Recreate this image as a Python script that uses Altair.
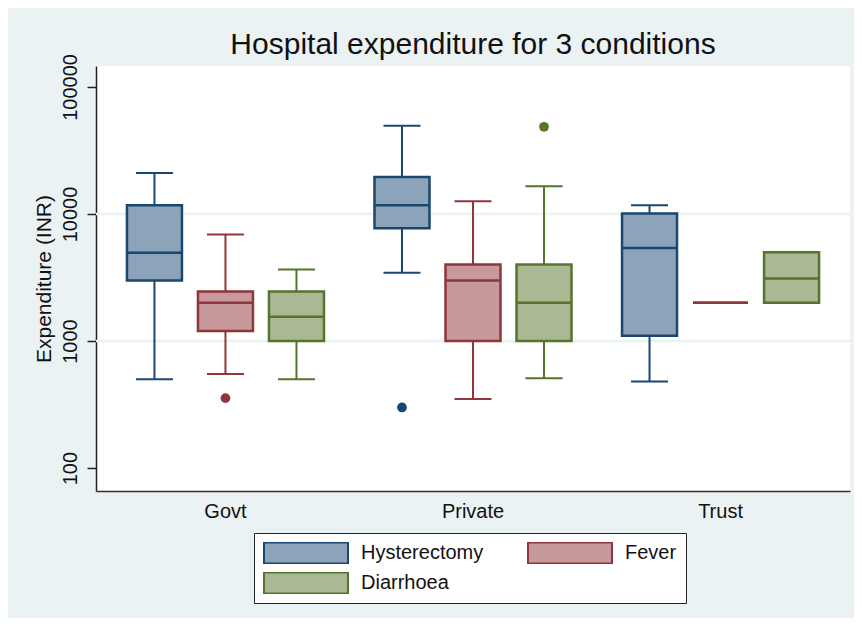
import altair as alt
import pandas as pd

# ---- data ----
groups = ["Govt", "Govt", "Govt", "Private", "Private", "Private", "Trust", "Trust", "Trust"]
conditions = ["Hysterectomy", "Fever", "Diarrhoea"] * 3
lower_whisker = [500, 550, 500, 3450, 350, 510, 480, 2000, 2000]
q1 = [3000, 1200, 1000, 7700, 1000, 1000, 1100, 2000, 2000]
median = [4950, 2000, 1550, 11700, 3000, 2000, 5400, 2000, 3100]
q3 = [11700, 2450, 2450, 19500, 4000, 4000, 10100, 2000, 5000]
upper_whisker = [21000, 6900, 3650, 49500, 12600, 16500, 11700, 2000, 5000]

outlier_groups = ["Govt", "Private", "Private"]
outlier_conditions = ["Fever", "Hysterectomy", "Diarrhoea"]
outlier_values = [355, 300, 48500]

group_order = ["Govt", "Private", "Trust"]
condition_order = ["Hysterectomy", "Fever", "Diarrhoea"]
y_ticks = [100, 1000, 10000, 100000]
grid_values = [1000, 10000]

stroke_colors = ["#1A476F", "#90353B", "#55752F"]
fill_colors = ["#8DA3B9", "#C8999C", "#AAB994"]

df = pd.DataFrame({
    "group": groups, "condition": conditions,
    "lower": lower_whisker, "q1": q1, "median": median, "q3": q3, "upper": upper_whisker,
})
df_out = pd.DataFrame({"group": outlier_groups, "condition": outlier_conditions, "value": outlier_values})
df_grid = pd.DataFrame({"value": grid_values})

FONT = "Liberation Sans"
TEXT = "#111111"

x_enc = alt.X(
    "group:N", sort=group_order,
    scale=alt.Scale(domain=group_order, paddingOuter=0.023, paddingInner=0),
    axis=alt.Axis(title=None, labelAngle=0, ticks=False, labelFontSize=20, labelPadding=10,
                  labelColor=TEXT, labelFont=FONT, domainColor="#333333", domainWidth=1.5, grid=False),
)
xoff_enc = alt.XOffset(
    "condition:N", sort=condition_order,
    scale=alt.Scale(domain=condition_order, paddingOuter=0.243, paddingInner=0),
)

y_scale = alt.Scale(type="log", domain=[66, 146000], nice=False)
y_axis = alt.Axis(
    title="Expenditure (INR)", values=y_ticks, format="d", grid=False,
    labelAngle=270, labelAlign="center", labelBaseline="bottom",
    labelFontSize=20, labelFont=FONT, labelColor=TEXT, labelPadding=7,
    tickSize=9, tickWidth=1.5, tickColor="#222222",
    domainColor="#222222", domainWidth=1.5,
    titleFontSize=21, titleFont=FONT, titleFontWeight="normal", titleColor=TEXT, titlePadding=6,
)

# box fill / outline scales (these carry the legend)
stroke_scale = alt.Scale(domain=condition_order, range=stroke_colors)
fill_scale = alt.Scale(domain=condition_order, range=fill_colors)
# dark colour for whiskers, medians, caps and outliers (same mapping, own scale, no legend)
line_domain = list(reversed(condition_order))
line_range = list(reversed(stroke_colors))
color_enc = alt.Color("condition:N", scale=alt.Scale(domain=line_domain, range=line_range), legend=None)

grid = alt.Chart(df_grid).mark_rule(color="#EAF2F3", strokeWidth=2.5).encode(
    y=alt.Y("value:Q", scale=y_scale, axis=y_axis)
)

base = alt.Chart(df).encode(x=x_enc, xOffset=xoff_enc)

low_whisker = base.mark_rule(strokeWidth=2).encode(
    y=alt.Y("lower:Q", scale=y_scale, axis=y_axis), y2="q1:Q", color=color_enc
)
up_whisker = base.mark_rule(strokeWidth=2).encode(
    y=alt.Y("q3:Q", scale=y_scale, axis=y_axis), y2="upper:Q", color=color_enc
)

legend = alt.Legend(
    title=None, orient="none", legendX=158, legendY=467, columns=2, direction="horizontal",
    symbolType="M-1,-0.25H1V0.25H-1Z", symbolSize=7056, symbolStrokeWidth=2, symbolOpacity=1,
    labelFontSize=20, labelFont=FONT, labelColor=TEXT, labelOffset=12,
    clipHeight=22, rowPadding=8, columnPadding=43, padding=9,
    fillColor="white", strokeColor="#222222",
)

boxes = base.mark_bar(width=55, strokeWidth=2.5, opacity=1).encode(
    y=alt.Y("q1:Q", scale=y_scale, axis=y_axis), y2="q3:Q",
    fill=alt.Fill("condition:N", scale=fill_scale, legend=legend),
    stroke=alt.Stroke("condition:N", scale=stroke_scale, legend=legend),
)

med = base.mark_tick(size=55, thickness=2.5, opacity=1).encode(
    y=alt.Y("median:Q", scale=y_scale, axis=y_axis), color=color_enc
)

cap_low = base.transform_filter("datum.lower < datum.q1").mark_tick(size=37, thickness=2, opacity=1).encode(
    y=alt.Y("lower:Q", scale=y_scale, axis=y_axis), color=color_enc
)
cap_up = base.transform_filter("datum.upper > datum.q3").mark_tick(size=37, thickness=2, opacity=1).encode(
    y=alt.Y("upper:Q", scale=y_scale, axis=y_axis), color=color_enc
)

outliers = alt.Chart(df_out).mark_circle(size=95, opacity=1).encode(
    x=x_enc, xOffset=xoff_enc,
    y=alt.Y("value:Q", scale=y_scale, axis=y_axis), color=color_enc
)

chart = alt.layer(grid, low_whisker, up_whisker, boxes, med, cap_low, cap_up, outliers).properties(
    width=754, height=425,
    title=alt.Title("Hospital expenditure for 3 conditions", fontSize=30, fontWeight="normal",
                    font=FONT, color=TEXT, anchor="middle", offset=8, dy=14),
    autosize=alt.AutoSizeParams(type="none"),
    padding={"left": 88, "top": 58, "right": 4, "bottom": 127},
    background="#EAF2F3",
).configure_view(fill="white", stroke=None)

chart.save("out.html", embed_options={"renderer": "svg", "actions": False})
